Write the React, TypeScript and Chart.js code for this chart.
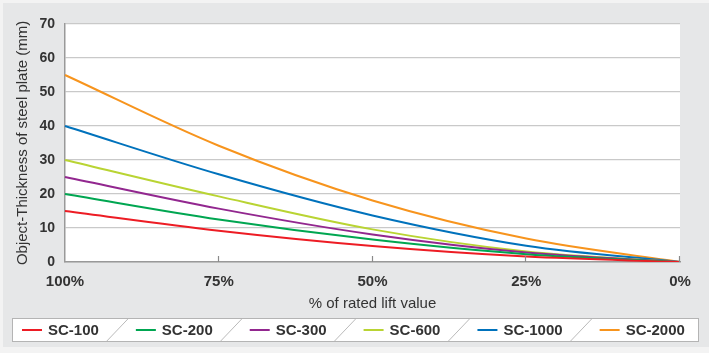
import React, { useEffect, useRef } from 'react';
import { Chart, registerables } from 'chart.js';
Chart.register(...registerables);

const categories = ['100%', '75%', '50%', '25%', '0%'];
const seriesNames = ['SC-100', 'SC-200', 'SC-300', 'SC-600', 'SC-1000', 'SC-2000'];
const sc100 = [15, 9.2, 4.7, 1.6, 0];
const sc200 = [20, 12.5, 6.6, 2.3, 0];
const sc300 = [25, 15.7, 8.1, 2.8, 0];
const sc600 = [30, 19.3, 9.6, 3.1, 0];
const sc1000 = [40, 25.8, 13.7, 4.8, 0];
const sc2000 = [55, 34.2, 18.1, 6.9, 0];
const seriesValues = [sc100, sc200, sc300, sc600, sc1000, sc2000];
const seriesColors = ['#ed1c24', '#00a651', '#92278f', '#b9d433', '#0072bc', '#f7941d'];
const yMin = 0;
const yMax = 70;
const yStep = 10;

const FONT = '"Liberation Sans", Arial, Helvetica, sans-serif';
const TEXT = '#333333';

const bgPlugin = {
  id: 'bgPlugin',
  beforeDraw(chart: any) {
    const { ctx, width, height, chartArea } = chart;
    ctx.save();
    ctx.fillStyle = '#f3f3f3';
    ctx.fillRect(0, 0, width, height);
    ctx.fillStyle = '#e6e7e8';
    ctx.fillRect(3, 3, width - 3, height - 9);
    ctx.fillStyle = '#ffffff';
    ctx.fillRect(chartArea.left, chartArea.top, chartArea.right - chartArea.left, chartArea.bottom - chartArea.top);
    ctx.restore();
  },
};

const tickPlugin = {
  id: 'tickPlugin',
  afterDraw(chart: any) {
    const { ctx, chartArea } = chart;
    const xs = chart.scales.x;
    ctx.save();
    ctx.strokeStyle = '#8a8a8a';
    ctx.lineWidth = 1.2;
    for (let i = 1; i < xs.ticks.length; i++) {
      const px = Math.round(xs.getPixelForTick(i)) - 0.5;
      ctx.beginPath();
      ctx.moveTo(px, chartArea.bottom);
      ctx.lineTo(px, chartArea.bottom - 6);
      ctx.stroke();
    }
    ctx.restore();
  },
};

const legendPlugin = {
  id: 'legendPlugin',
  afterDraw(chart: any) {
    const { ctx } = chart;
    const boxL = 12, boxT = 318, boxR = 699, boxB = 342;
    ctx.save();
    ctx.fillStyle = '#ffffff';
    ctx.fillRect(boxL, boxT, boxR - boxL, boxB - boxT);
    ctx.strokeStyle = '#b4b4b4';
    ctx.lineWidth = 1;
    ctx.strokeRect(boxL + 0.5, boxT + 0.5, boxR - boxL - 1, boxB - boxT - 1);
    ctx.font = 'bold 15px ' + FONT;
    ctx.textBaseline = 'middle';
    ctx.textAlign = 'left';
    const cy = (boxT + boxB) / 2;
    let x = 22;
    chart.data.datasets.forEach((ds: any, i: number) => {
      ctx.strokeStyle = ds.borderColor;
      ctx.lineWidth = 2;
      ctx.beginPath();
      ctx.moveTo(x, cy);
      ctx.lineTo(x + 20, cy);
      ctx.stroke();
      ctx.fillStyle = TEXT;
      ctx.fillText(ds.label, x + 26, cy + 1);
      const tw = ctx.measureText(ds.label).width;
      const end = x + 26 + tw;
      if (i < chart.data.datasets.length - 1) {
        ctx.strokeStyle = '#a8a8a8';
        ctx.lineWidth = 0.8;
        ctx.beginPath();
        ctx.moveTo(end + 8, boxB - 1);
        ctx.lineTo(end + 29, boxT + 1);
        ctx.stroke();
      }
      x = end + 37;
    });
    ctx.restore();
  },
};

export default function App() {
  const ref = useRef<HTMLCanvasElement>(null);
  useEffect(() => {
    document.body.style.margin = '0';
    const chart = new Chart(ref.current as HTMLCanvasElement, {
      type: 'line',
      data: {
        labels: categories,
        datasets: seriesNames.map((name, i) => ({
          label: name,
          data: seriesValues[i],
          borderColor: seriesColors[i],
          backgroundColor: seriesColors[i],
          borderWidth: 2,
          pointRadius: 0,
          cubicInterpolationMode: 'monotone' as const,
          fill: false,
        })),
      },
      options: {
        animation: false,
        responsive: false,
        devicePixelRatio: 1,
        layout: { padding: { left: 0, right: 29, top: 24, bottom: 0 } },
        plugins: {
          legend: { display: false },
          tooltip: { enabled: false },
        },
        scales: {
          x: {
            type: 'category',
            offset: false,
            grid: { display: false, drawTicks: false },
            border: { display: true, color: '#999999', width: 1.5 },
            ticks: {
              padding: 11,
              color: TEXT,
              font: { family: FONT, size: 15, weight: 'bold' },
              maxRotation: 0,
            },
            title: {
              display: true,
              text: '% of rated lift value',
              color: TEXT,
              font: { family: FONT, size: 15 },
              padding: { top: 0, bottom: 40 },
            },
            afterFit: (scale: any) => {
              scale.height = 91;
            },
          },
          y: {
            min: yMin,
            max: yMax,
            grid: { color: '#c9c9c9', lineWidth: 1.3, drawTicks: false },
            border: { display: true, color: '#999999', width: 1.5 },
            ticks: {
              stepSize: yStep,
              padding: 10,
              color: TEXT,
              font: { family: FONT, size: 14, weight: 'bold' },
            },
            title: {
              display: true,
              text: 'Object-Thickness of steel plate (mm)',
              color: TEXT,
              font: { family: FONT, size: 15 },
              padding: { top: 14, bottom: 0 },
            },
            afterFit: (scale: any) => {
              scale.width = 65;
            },
          },
        },
      },
      plugins: [bgPlugin, tickPlugin, legendPlugin],
    } as any);
    return () => chart.destroy();
  }, []);
  return (
    <div style={{ width: 709, height: 353 }}>
      <canvas ref={ref} width={709} height={353} style={{ display: 'block' }} />
    </div>
  );
}
